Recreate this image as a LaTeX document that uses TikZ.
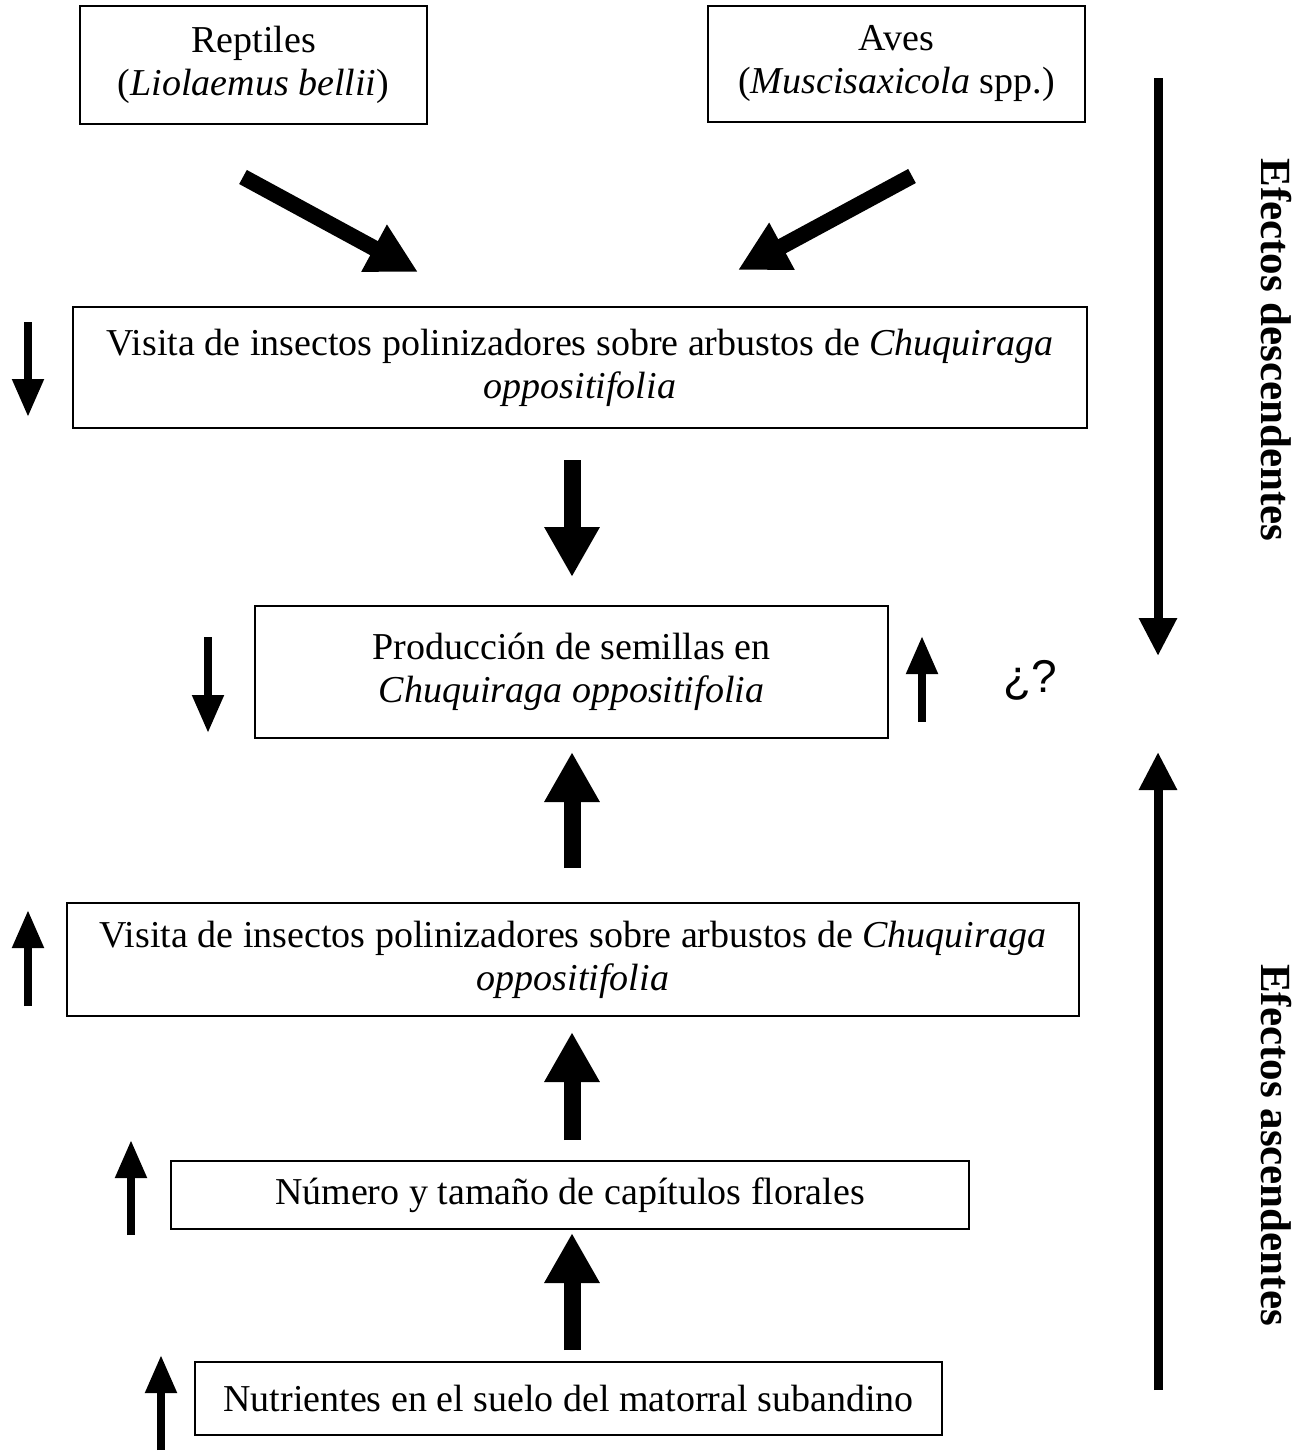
\documentclass[tikz,border=0pt]{standalone}
\usepackage{fontspec}
\setmainfont{Liberation Serif}
\newfontfamily\qfont{Liberation Sans}
\usetikzlibrary{arrows.meta}
\begin{document}
\begin{tikzpicture}[x=0.5pt,y=-0.5pt,
  box/.style={draw,line width=1pt,inner sep=0pt,align=center,font=\fontsize{19}{21.5}\selectfont},
  thick arrow/.style={line width=8.5pt,-{Triangle[width=26pt,length=25pt]}},
  diag arrow/.style={line width=8pt,-{Triangle[width=25pt,length=25pt]}},
  small arrow/.style={line width=4pt,-{Triangle[width=15pt,length=19pt]}},
  long arrow/.style={line width=4.5pt,-{Triangle[width=18pt,length=19pt]}},
  side label/.style={rotate=-90,font=\fontsize{21.5}{24}\selectfont\bfseries}]
\useasboundingbox (0,0) rectangle (1314,1451);
% boxes
\node[box,minimum width=173.5pt,minimum height=59pt] (rep) at (253.5,65) {Reptiles\\(\textit{Liolaemus bellii})};
\node[box,minimum width=188.5pt,minimum height=58pt] (ave) at (896.5,64) {Aves\\(\textit{Muscisaxicola} spp.)};
\node[box,minimum width=507pt,minimum height=60.5pt] (vis1) at (580,367.5) {Visita de insectos polinizadores sobre arbustos de \textit{Chuquiraga}\\\textit{oppositifolia}};
\node[box,minimum width=316.5pt,minimum height=66pt] (prod) at (571.5,672) {Producción de semillas en\\\textit{Chuquiraga oppositifolia}};
\node[box,minimum width=506pt,minimum height=56.5pt] (vis2) at (573,959.5) {Visita de insectos polinizadores sobre arbustos de \textit{Chuquiraga}\\\textit{oppositifolia}};
\node[box,minimum width=399pt,minimum height=34pt] (num) at (570,1195) {Número y tamaño de capítulos florales};
\node[box,minimum width=373.5pt,minimum height=36.5pt] (nut) at (568.5,1398.5) {Nutrientes en el suelo del matorral subandino};
% arrow end points
\coordinate (d1a) at (243,177); \coordinate (d1b) at (418,272);
\coordinate (d2a) at (912,176); \coordinate (d2b) at (738,270);
\coordinate (c1a) at (572,460); \coordinate (c1b) at (572,577);
\coordinate (c2a) at (572,868); \coordinate (c2b) at (572,752);
\coordinate (c3a) at (572,1140); \coordinate (c3b) at (572,1032);
\coordinate (c4a) at (572,1350); \coordinate (c4b) at (572,1233);
\coordinate (s1a) at (28,322); \coordinate (s1b) at (28,417);
\coordinate (s2a) at (208,637); \coordinate (s2b) at (208,733);
\coordinate (s3a) at (922,722); \coordinate (s3b) at (922,636);
\coordinate (s4a) at (28,1006); \coordinate (s4b) at (28,910);
\coordinate (s5a) at (131,1235); \coordinate (s5b) at (131,1140);
\coordinate (s6a) at (161,1450); \coordinate (s6b) at (161,1355);
\coordinate (l1a) at (1158,78); \coordinate (l1b) at (1158,656);
\coordinate (l2a) at (1158,1390); \coordinate (l2b) at (1158,752);
% arrows
\draw[diag arrow] (d1a) -- (d1b);
\draw[diag arrow] (d2a) -- (d2b);
\draw[thick arrow] (c1a) -- (c1b);
\draw[thick arrow] (c2a) -- (c2b);
\draw[thick arrow] (c3a) -- (c3b);
\draw[thick arrow] (c4a) -- (c4b);
\draw[small arrow] (s1a) -- (s1b);
\draw[small arrow] (s2a) -- (s2b);
\draw[small arrow] (s3a) -- (s3b);
\draw[small arrow] (s4a) -- (s4b);
\draw[small arrow] (s5a) -- (s5b);
\draw[small arrow] (s6a) -- (s6b);
\draw[long arrow] (l1a) -- (l1b);
\draw[long arrow] (l2a) -- (l2b);
% labels
\node[font=\qfont\fontsize{23}{27}\selectfont] (q) at (1030,680) {¿?};
\node[side label] (desc) at (1276,350) {Efectos descendentes};
\node[side label] (asc) at (1276,1145) {Efectos ascendentes};
\end{tikzpicture}
\end{document}
